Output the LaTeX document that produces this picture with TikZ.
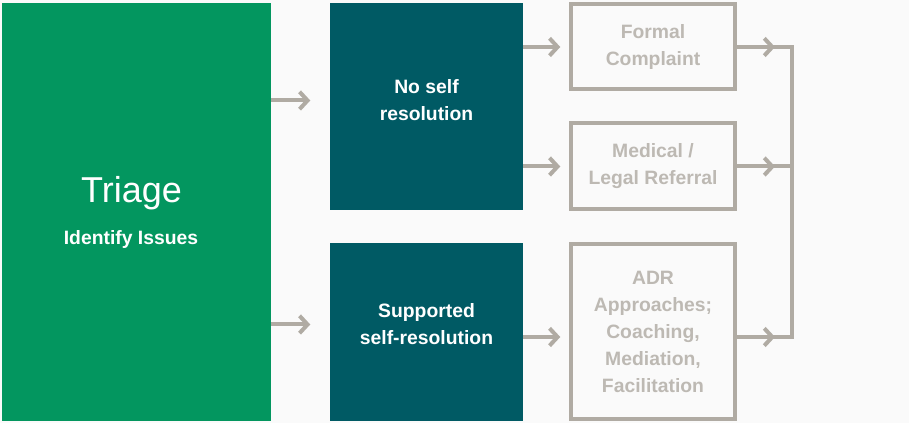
\documentclass[tikz,border=0pt]{standalone}
\usepackage{fontspec}
\setmainfont{Liberation Sans}
\usepackage{xcolor}
\usetikzlibrary{arrows.meta,backgrounds}
\definecolor{triagegreen}{HTML}{03965F}
\definecolor{pathteal}{HTML}{005A64}
\definecolor{outgray}{HTML}{B0ABA3}
\definecolor{outtext}{HTML}{BDB9B3}
\definecolor{paper}{HTML}{FAFAFA}
\tikzstyle{routebox}=[fill=pathteal,inner sep=0pt,minimum width=144.75pt]
\tikzstyle{routetext}=[text=white,align=center,font=\fontsize{14.5}{20.25}\selectfont\bfseries]
\tikzstyle{outbox}=[draw=outgray,line width=3pt,fill=paper,inner sep=0pt,minimum width=123pt,text=outtext,align=center,font=\fontsize{14.5}{20.25}\selectfont\bfseries]
\tikzstyle{flow}=[draw=outgray,line width=3pt,-{Straight Barb[length=6pt,width=13pt]}]
\tikzstyle{mergeline}=[draw=outgray,line width=3pt]

\begin{document}
\begin{tikzpicture}[x=0.75pt,y=0.75pt]
	\fill[paper] (0,0) rectangle (909,423);
	\node[fill=triagegreen,inner sep=0pt,minimum width=201.75pt,minimum height=313.5pt] (triage) at (136.5,211) {};
	\node[text=white,font=\fontsize{27}{30}\selectfont] (triagetitle) at (131.5,230) {Triage};
	\node[text=white,font=\fontsize{14.5}{17}\selectfont\bfseries] (triagesub) at (131,183) {Identify Issues};
	\node[routebox,minimum height=155.25pt] (noself) at (426.5,316.5) {};
	\node[routebox,minimum height=133.5pt] (supported) at (426.5,91) {};
	\node[routetext] (noselftext) at (426.5,322.5) {No self\\resolution};
	\node[routetext] (supportedtext) at (426.5,98.5) {Supported\\self-resolution};
	\node[outbox,minimum height=63.75pt] (formal) at (653,376) {Formal\\Complaint};
	\node[outbox,minimum height=64.5pt] (medical) at (653,256.5) {Medical /\\Legal Referral};
	\node[outbox,minimum height=131.25pt] (adr) at (653,91) {ADR\\Approaches;\\Coaching,\\Mediation,\\Facilitation};
	\coordinate (mergetop) at (792,376);
	\coordinate (mergebot) at (792,86);
	\draw[flow] (triage.east |- noselftext) -- ++(39,0);
	\draw[flow] (triage.east |- supportedtext) -- ++(39,0);
	\draw[flow] (noself.east |- formal) -- ++(37,0);
	\draw[flow] (noself.east |- medical) -- ++(37,0);
	\draw[flow] (supported.east |- mergebot) -- ++(37,0);
	\draw[mergeline] (formal.east) -- (mergetop) -- (mergebot) -- (adr.east |- mergebot);
	\draw[mergeline] (medical.east) -- (medical.east -| mergetop);
	\draw[flow] (formal.east) -- ++(38,0);
	\draw[flow] (medical.east) -- ++(38,0);
	\draw[flow] (adr.east |- mergebot) -- ++(38,0);
\end{tikzpicture}
\end{document}
